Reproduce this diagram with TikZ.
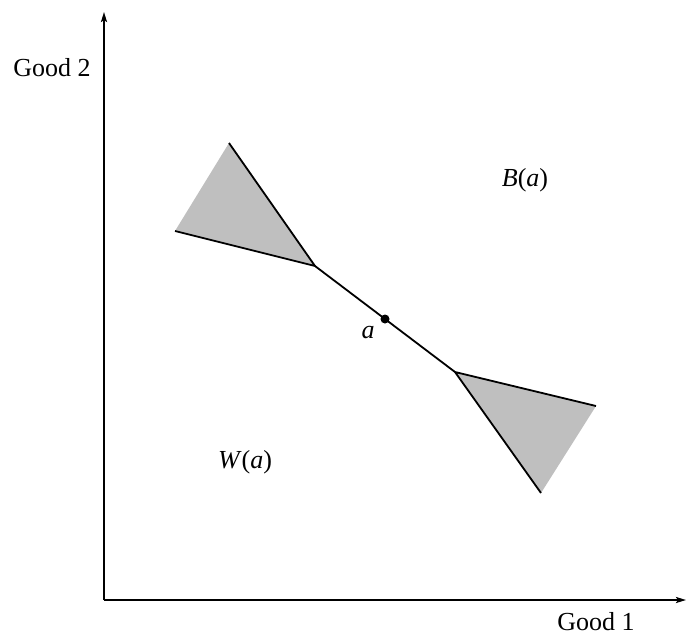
\documentclass[tikz,border=0pt]{standalone}
\usepackage{fontspec}
\setmainfont{Liberation Serif}
\usetikzlibrary{arrows.meta}
\begin{document}
\begin{tikzpicture}[x=1pt,y=-1pt,
  axis/.style={line width=1.8pt,-{Stealth[length=10pt,width=6pt,inset=2pt]}},
  edge/.style={line width=1.8pt},
  lbl/.style={font=\fontsize{26}{30}\selectfont,inner sep=0pt},
  shade/.style={fill=black!25,draw=none}]
\useasboundingbox (0,0) rectangle (687,640);
\coordinate (O) at (104,600);
\coordinate (Ytop) at (104,12);
\coordinate (Xend) at (686,600);
\coordinate (P1) at (229,143);
\coordinate (P2) at (175,231);
\coordinate (V1) at (315,266);
\coordinate (A) at (385,319);
\coordinate (V2) at (455,372);
\coordinate (Q1) at (596,406);
\coordinate (Q2) at (541,493);
\fill[shade] (P1) -- (V1) -- (P2) -- cycle;
\fill[shade] (Q1) -- (V2) -- (Q2) -- cycle;
\draw[edge] (P1) -- (V1) -- (P2);
\draw[edge] (Q1) -- (V2) -- (Q2);
\draw[edge] (V1) -- (V2);
\fill (A) circle (4.5pt);
\draw[axis] (O) -- (Ytop);
\draw[axis] (O) -- (Xend);
\node[lbl] (g2) at (52,68) {Good 2};
\node[lbl] (g1) at (596,622) {Good 1};
\node[lbl] (ba) at (525,180) {\textit{B}(\textit{a})};
\node[lbl] (wa) at (245,462) {\textit{W}(\textit{a})};
\node[lbl] (al) at (368,333) {\textit{a}};
\end{tikzpicture}
\end{document}
